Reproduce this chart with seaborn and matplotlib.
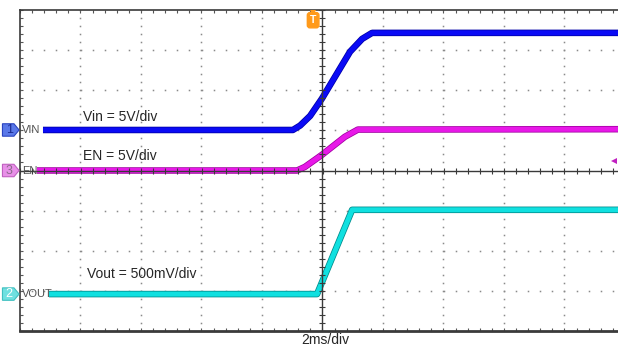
import numpy as np
import pandas as pd
import matplotlib
matplotlib.use("Agg")
import matplotlib.pyplot as plt
import matplotlib.patheffects as pe
from matplotlib.patches import Polygon
import seaborn as sns

# -------------------------------------------------
# Scope traces
# x: time in ms (2 ms/div), y: screen divisions from centre
# -------------------------------------------------
vin_t = [-9.24, -0.98, -0.74, -0.41, -0.02, 0.91, 1.31, 1.64, 10.5]
vin_div = [1.01, 1.01, 1.12, 1.36, 1.79, 2.96, 3.28, 3.43, 3.43]

en_t = [-9.44, -0.84, -0.58, -0.02, 0.74, 1.17, 10.5]
en_div = [0.0, 0.0, 0.09, 0.39, 0.84, 1.02, 1.03]

vout_t = [-9.04, -0.18, 0.98, 10.5]
vout_div = [-3.08, -3.08, -0.98, -0.98]

channels = ["VIN", "EN", "VOUT"]
channel_numbers = ["1", "3", "2"]
channel_levels = [1.01, 0.0, -3.08]
trace_colors = ["#0a0af5", "#e818e8", "#10e0e0"]
edge_colors = ["#0000a8", "#a000a0", "#008a8a"]
tag_fills = ["#5a78e8", "#e890e8", "#6fe0e0"]
tag_edges = ["#2a44c0", "#c060c0", "#40c0c0"]
tag_text = ["#1a2a90", "#8a6a8a", "white"]

scale_labels = ["Vin = 5V/div", "EN = 5V/div", "Vout = 500mV/div"]
time_label = "2ms/div"

frames = []
for name, t, v in [("VIN", vin_t, vin_div), ("EN", en_t, en_div),
                   ("VOUT", vout_t, vout_div)]:
    frames.append(pd.DataFrame({"time_ms": t, "div": v, "channel": name}))
df = pd.concat(frames, ignore_index=True)

# -------------------------------------------------
# Figure
# -------------------------------------------------
sns.set_style("white")
plt.rcParams["font.family"] = ["Liberation Sans", "DejaVu Sans"]

fig = plt.figure(figsize=(6.18, 3.48), dpi=100)
ax = fig.add_axes([20 / 618, 17 / 348, 605 / 618, 321 / 348])
ax.set_xlim(-10, 10)
ax.set_ylim(-4, 4)

sns.lineplot(
    data=df, x="time_ms", y="div", hue="channel",
    palette=dict(zip(channels, trace_colors)),
    sort=False, estimator=None, legend=False, lw=3.6, ax=ax, zorder=2
)
for line, ec in zip(ax.get_lines(), edge_colors):
    line.set_solid_capstyle("butt")
    line.set_path_effects([pe.Stroke(linewidth=4.7, foreground=ec), pe.Normal()])

# dotted graticule
minor_x = np.arange(-10, 10.01, 0.4)
minor_y = np.arange(-4, 4.01, 0.2)
for gx in [-8, -6, -4, -2, 2, 4, 6, 8]:
    ax.plot(np.full_like(minor_y, gx), minor_y, ls="none", marker="s",
            ms=1.1, mew=0, color="#8a8a8a", zorder=1)
for gy in [-3, -2, -1, 1, 2, 3]:
    ax.plot(minor_x, np.full_like(minor_x, gy), ls="none", marker="s",
            ms=1.1, mew=0, color="#8a8a8a", zorder=1)

# centre cross with ticks
ax.axhline(0, color="#3a3a3a", lw=1.0, zorder=3)
ax.axvline(0, color="#3a3a3a", lw=1.0, zorder=3)
ax.plot(minor_x, np.zeros_like(minor_x), ls="none", marker="|", ms=4.5,
        mew=0.8, color="#3a3a3a", zorder=3)
ax.plot(np.zeros_like(minor_y), minor_y, ls="none", marker="_", ms=4.5,
        mew=0.8, color="#3a3a3a", zorder=3)

# border ticks
ax.set_xticks(np.arange(-10, 10.01, 2))
ax.set_xticks(minor_x, minor=True)
ax.set_yticks(np.arange(-4, 4.01, 1))
ax.set_yticks(minor_y, minor=True)
ax.tick_params(which="both", direction="in", top=True, bottom=True,
               left=True, right=True, labelbottom=False, labelleft=False,
               length=2.3, width=0.8, color="#555555")
for side, sp in ax.spines.items():
    sp.set_color("#3a3a3a")
    sp.set_linewidth(1.2)
ax.spines["bottom"].set_linewidth(2.0)
ax.set_xlabel("")
ax.set_ylabel("")

# channel tags on the left
for num, name, lvl, fc, ec, tc in zip(channel_numbers, channels,
                                      channel_levels, tag_fills, tag_edges,
                                      tag_text):
    h = 0.155
    poly = Polygon([(-10.58, lvl - h), (-10.2, lvl - h), (-10.03, lvl),
                    (-10.2, lvl + h), (-10.58, lvl + h)],
                   closed=True, fc=fc, ec=ec, lw=0.8, clip_on=False, zorder=5)
    ax.add_patch(poly)
    ax.text(-10.36, lvl, num, ha="center", va="center", fontsize=9,
            color=tc, clip_on=False, zorder=6)
    ax.text(-9.93, lvl, name, ha="left", va="center", fontsize=8,
            color="#505050", zorder=6)

# scale annotations
ax.text(-7.92, 1.34, scale_labels[0], fontsize=10, va="center", ha="left")
ax.text(-7.92, 0.37, scale_labels[1], fontsize=10, va="center", ha="left")
ax.text(-7.78, -2.58, scale_labels[2], fontsize=10, va="center", ha="left")
ax.text(0.08, -4.23, time_label, fontsize=10, va="center", ha="center",
        clip_on=False)

# trigger markers
ax.plot([-0.31], [3.92], marker="v", ms=5, color="#ff9a1a", mew=0,
        clip_on=False, zorder=6)
ax.text(-0.31, 3.745, "T", ha="center", va="center", fontsize=7.5,
        fontweight="bold", color="white", zorder=6,
        bbox=dict(boxstyle="round,pad=0.25", fc="#ff9a1a", ec="#ff9a1a"))
ax.plot([9.62], [0.24], marker="<", ms=5, color="#c020c0", mew=0,
        clip_on=False, zorder=6)

fig.savefig("out.png", dpi=100)
plt.close(fig)
